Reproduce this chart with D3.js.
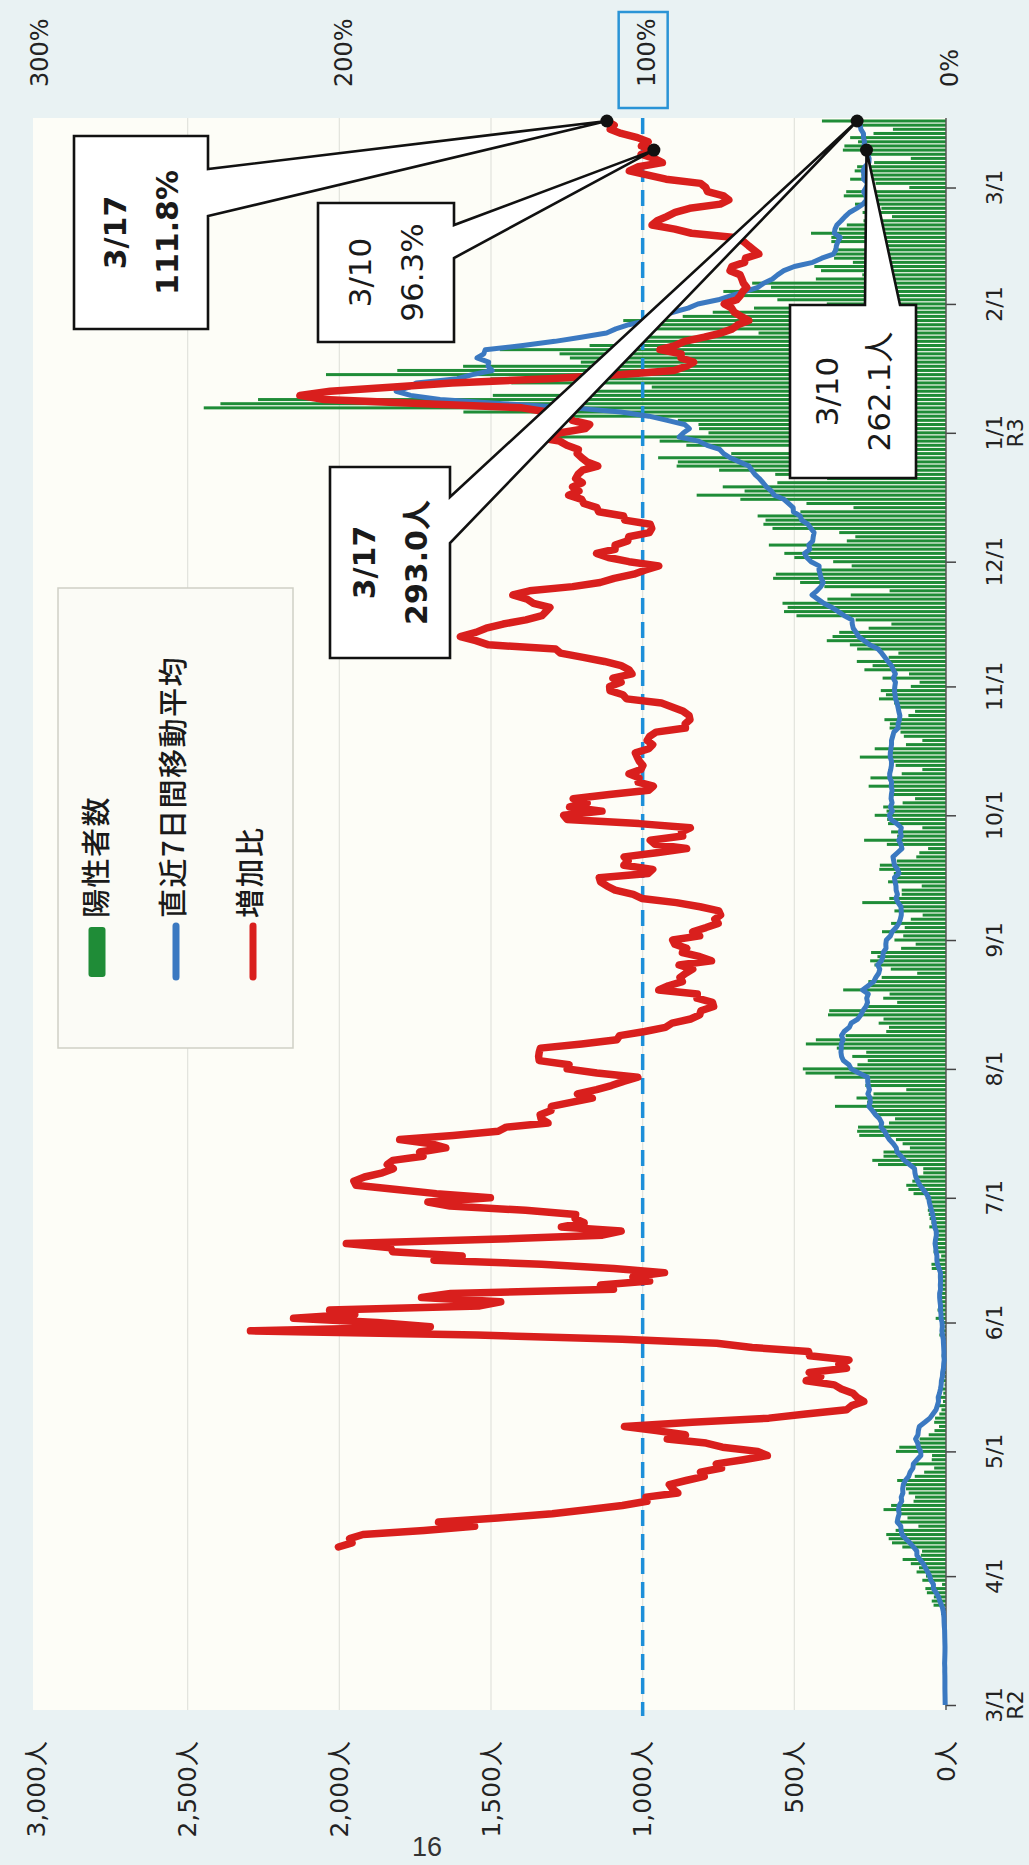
<!DOCTYPE html>
<html><head><meta charset="utf-8">
<script src="https://cdn.jsdelivr.net/npm/d3@7"></script>
<style>
html,body{margin:0;padding:0;background:#e9f2f3;}
svg{display:block;}
</style></head>
<body>
<svg id="chart" width="1029" height="1865"></svg>
<script>
// ---------------- DATA ----------------
const startDate = "2020-03-01";
// daily positives 2020-03-01 .. 2021-03-17
const positives = [
1,0,3,3,8,6,4,2,3,2,7,5,3,2,1,6,4,9,7,11,7,3,16,17,41,47,40,63,68,13,78,
66,97,89,116,143,83,79,144,178,189,197,166,91,161,127,149,206,181,107,102,123,132,134,161,103,72,39,112,47,46,
165,154,91,87,57,38,23,39,36,22,15,28,10,30,9,14,5,10,5,5,11,3,2,14,8,10,11,15,22,14,5,
13,34,12,28,20,26,14,13,12,18,22,25,24,47,48,27,16,41,35,39,35,29,31,55,48,54,57,60,58,54,
67,107,124,131,111,102,75,75,224,243,206,206,119,143,165,286,293,290,188,168,237,238,366,260,295,239,131,266,250,367,463,
472,292,258,309,263,360,462,429,331,197,188,222,206,389,385,260,161,207,186,339,258,256,212,95,182,236,250,226,247,148,100,
170,141,211,136,181,116,77,170,149,276,187,146,146,80,191,163,172,220,218,162,98,88,59,195,270,161,181,78,191,194,
235,196,207,143,102,183,178,255,187,249,146,78,166,177,284,185,235,132,78,139,150,186,185,203,124,102,158,171,221,198,215,
116,87,209,122,269,242,294,189,157,293,317,393,374,352,255,180,298,493,534,522,539,391,314,186,401,481,570,561,418,311,
372,500,533,449,584,327,299,352,572,602,595,621,480,305,460,678,822,664,736,556,392,563,748,888,884,949,708,481,856,944,1337,
783,814,816,884,1278,1591,2447,2392,2268,1494,1219,970,1433,1502,2044,1809,1592,1204,1240,1274,1471,1175,1070,986,618,1026,973,1064,868,769,633,
393,556,676,734,577,639,429,276,412,434,307,369,371,371,266,378,378,445,353,327,272,178,275,213,300,270,337,329,
121,232,316,279,301,293,237,116,269,340,335,290,316,239,175,287,409
];
// 7-day moving average 2020-03-01 .. 2021-03-17
const movingAvg = [
2.7,2.9,3.1,3.4,3.6,3.6,
3.6,3.7,4.1,4.0,4.6,4.1,3.7,3.4,3.3,3.7,
4.0,4.3,4.6,5.7,6.4,6.7,8.1,10.0,14.6,20.3,
24.4,32.4,41.7,41.3,50.0,53.6,60.7,67.7,75.3,86.0,
96.0,96.1,107.3,118.9,133.1,144.7,148.0,149.1,160.9,158.4,
154.3,156.7,154.4,146.0,147.6,142.1,142.9,140.7,134.3,123.1,
118.1,109.1,107.6,95.4,82.9,83.4,90.7,93.4,100.3,92.4,
91.1,87.9,69.9,53.0,43.1,32.9,28.7,24.7,25.7,21.4,
18.3,15.9,15.1,11.9,11.1,8.4,7.6,5.9,7.1,6.9,
7.6,8.4,9.0,11.7,13.4,12.1,12.9,16.3,16.4,18.3,
18.0,19.7,21.0,21.0,17.9,18.7,17.9,18.6,18.3,23.0,
28.0,30.1,29.9,32.6,34.0,36.1,34.4,31.7,32.3,37.9,
38.9,41.6,44.1,47.7,51.9,55.1,56.9,65.3,75.3,85.9,
93.1,99.4,102.4,103.6,120.3,137.3,148.0,161.6,164.0,173.7,
186.6,195.4,202.6,214.6,212.0,219.0,232.4,242.9,254.3,249.6,
250.3,257.6,252.3,256.4,258.1,258.3,287.3,312.6,320.1,338.3,
344.4,346.3,345.3,345.1,339.0,344.6,335.9,318.6,312.7,290.7,
280.3,274.0,263.9,258.7,261.4,256.3,275.3,256.6,238.1,231.3,
221.9,218.3,225.4,212.7,208.1,206.9,197.7,198.4,196.7,183.1,
177.6,164.7,155.3,150.7,147.4,147.4,148.6,157.9,165.1,160.1,
164.4,164.9,167.9,169.9,155.0,159.7,170.0,172.3,174.9,160.1,
145.3,148.6,155.7,147.6,150.3,147.4,162.1,181.4,187.1,176.6,
183.1,177.7,181.1,180.0,177.7,180.6,179.3,185.3,185.7,182.3,
179.9,179.7,183.9,183.6,181.6,179.6,179.6,175.7,171.9,157.9,
157.9,153.3,152.1,155.6,158.3,161.3,166.3,168.1,169.9,168.7,
166.6,173.9,166.9,173.7,180.0,191.3,201.7,211.7,223.7,251.6,
269.3,288.1,296.4,305.9,309.1,309.9,335.0,355.1,376.3,403.0,
422.4,441.6,425.6,412.4,404.9,411.7,414.9,418.7,418.3,444.9,
459.0,466.4,449.1,452.4,439.4,437.7,434.9,445.1,455.0,475.9,
481.1,503.0,503.9,519.3,534.4,565.9,575.7,592.1,603.0,615.4,
630.1,640.1,649.6,681.0,711.4,733.1,745.9,787.7,815.7,879.9,
865.4,846.1,861.6,919.1,979.4,1071.9,1230.4,1460.3,1668.0,1764.9,
1812.7,1768.7,1746.1,1611.1,1561.4,1495.9,1509.9,1507.7,1546.3,1523.6,
1519.1,1395.0,1289.4,1202.9,1119.1,1088.6,1045.6,987.4,943.6,900.6,
850.1,818.0,750.9,708.4,661.3,619.7,601.1,572.0,555.3,534.7,
500.1,439.1,409.4,371.1,362.9,361.4,356.6,348.6,368.3,366.0,
359.7,345.6,333.0,318.3,294.7,274.0,262.1,263.6,271.7,263.6,
257.4,272.1,269.1,273.6,267.3,254.1,253.4,258.7,262.1,270.1,
268.6,271.9,272.1,280.6,283.1,293.0
];
// 増加比 (%) 2020-04-08 .. 2021-03-17
const ratioStart = "2020-04-08";
const ratio = [
200.3,195.8,196.6,192.2,172.1,155.4,167.3,147.7,129.8,117.7,
106.7,98.6,98.9,88.4,90.2,91.2,85.7,79.7,80.9,74.0,
75.7,66.8,58.9,62.1,73.7,79.1,91.9,85.9,95.5,106.0,
83.7,58.4,46.2,32.8,31.1,27.1,29.3,30.7,34.5,36.8,
46.1,41.3,45.1,32.8,35.3,32.0,45.0,45.3,63.9,75.6,
106.8,154.7,229.3,170.0,187.5,215.1,194.9,203.2,153.7,146.8,
172.9,163.3,109.6,113.9,97.7,103.2,92.8,109.5,133.3,168.8,
159.5,182.4,183.1,197.7,149.7,113.3,107.1,126.8,119.3,122.3,
122.1,138.6,163.5,170.8,150.2,168.0,181.1,194.5,195.2,191.7,
185.8,182.2,184.2,182.4,172.4,173.5,164.9,169.6,180.1,162.5,
147.6,145.0,131.2,133.5,133.8,130.2,130.1,123.2,116.6,121.5,
115.2,110.3,106.3,101.6,115.1,124.9,124.3,134.1,134.3,134.1,
133.7,120.1,108.5,107.6,99.3,92.5,90.3,84.2,81.2,80.8,
76.6,77.0,82.1,82.0,94.7,91.5,86.9,87.7,85.8,83.5,
88.0,77.3,81.1,86.9,85.5,89.4,90.1,81.2,83.5,79.1,
75.1,76.2,74.3,74.9,81.1,88.9,100.3,103.1,109.1,111.8,
113.9,114.3,98.2,96.7,106.2,104.8,106.1,95.4,85.5,95.9,
97.5,86.8,87.2,84.3,101.2,124.9,126.0,113.4,124.1,118.3,
122.9,111.0,98.0,96.5,101.5,101.2,104.5,100.6,99.9,101.1,
101.8,102.4,98.0,96.7,98.5,97.7,95.6,85.9,86.0,84.4,
84.7,86.6,90.1,93.8,105.3,106.5,110.8,110.9,107.1,109.8,
103.5,104.5,107.1,112.6,119.6,127.1,128.7,150.8,155.0,160.1,
155.0,151.6,146.0,138.5,133.2,131.9,130.6,136.0,138.1,142.8,
137.3,123.1,114.0,109.4,102.9,99.1,94.7,104.5,111.3,115.2,
109.1,109.1,104.9,104.6,97.8,97.0,97.5,105.9,106.3,114.5,
115.1,119.4,120.1,124.4,121.0,123.1,119.9,122.1,121.3,119.8,
114.8,118.3,120.1,121.6,121.2,125.0,127.4,135.5,127.1,118.9,
117.5,123.2,124.3,131.4,139.8,172.0,205.0,213.0,203.0,182.0,
162.9,130.9,106.9,89.7,85.6,83.2,87.4,87.3,94.3,89.3,
86.2,79.7,74.2,70.4,68.6,65.0,67.6,69.8,70.7,73.1,
69.0,67.8,67.0,65.7,66.8,67.3,67.9,71.2,70.6,66.4,
66.1,61.7,63.4,65.1,66.7,69.7,83.9,89.4,96.9,95.2,
92.1,89.3,84.5,74.4,71.6,73.3,78.6,79.2,80.9,92.3,
98.2,104.4,101.4,93.5,96.2,100.5,96.3,100.4,98.2,101.7,
107.1,110.7,109.4,111.8
];
const valueTicks = [0,500,1000,1500,2000,2500,3000];
const valueTickLabels = ["0人","500人","1,000人","1,500人","2,000人","2,500人","3,000人"];
const pctTicks = [0,100,200,300];
const pctTickLabels = ["0%","100%","200%","300%"];
const monthTicks = ["2020-03-01","2020-04-01","2020-05-01","2020-06-01","2020-07-01","2020-08-01","2020-09-01","2020-10-01","2020-11-01","2020-12-01","2021-01-01","2021-02-01","2021-03-01"];
const monthTickLabels = ["3/1","4/1","5/1","6/1","7/1","8/1","9/1","10/1","11/1","12/1","1/1","2/1","3/1"];
const eraLabels = ["R2","","","","","","","","","","R3","",""];
const legendLabels = ["陽性者数","直近7日間移動平均","増加比"];
const calloutData = [
  {date:"2021-03-17", series:"ratio", value:111.8, text:["3/17","111.8%"], bold:true},
  {date:"2021-03-10", series:"ratio", value:96.3,  text:["3/10","96.3%"],  bold:false},
  {date:"2021-03-17", series:"avg",   value:293.0, text:["3/17","293.0人"], bold:true},
  {date:"2021-03-10", series:"avg",   value:262.1, text:["3/10","262.1人"], bold:false}
];
const pageNumber = "16";

// ---------------- LAYOUT ----------------
const W = 1029, H = 1865;
const plot = {left:33, right:947, top:118, bottom:1710};
const baseX = 946;
const calloutBoxes = [
  {x:74,  y:136, w:134, h:193, side:"right", a:169, b:216},
  {x:318, y:203, w:136, h:139, side:"right", a:225, b:258},
  {x:330, y:467, w:120, h:191, side:"right", a:497, b:543},
  {x:790, y:305, w:126, h:173, side:"top",   a:865, b:900}
];
const C = {green:"#1f8c37", blue:"#3b79c1", red:"#d91f1d", dash:"#1d8fd9", grid:"#e2e3dc",
           page:"#e9f2f3", plotBg:"#fdfdf7", text:"#222"};
const FONT = "'DejaVu Sans','Noto Sans CJK JP',sans-serif";
const JFONT = "'Noto Sans CJK JP','Noto Sans',sans-serif";

const parse = d3.utcParse("%Y-%m-%d");
const t0 = parse(startDate);
const days = d3.utcDay.range(t0, d3.utcDay.offset(t0, positives.length));
const rt0 = parse(ratioStart);
const ratioDays = d3.utcDay.range(rt0, d3.utcDay.offset(rt0, ratio.length));

const y = d3.scaleUtc().domain([t0, days[days.length-1]]).range([1705, 121]);
const x = d3.scaleLinear().domain([0, 3000]).range([baseX, 36]);
const p = d3.scaleLinear().domain([0, 300]).range([baseX, 36]);

const svg = d3.select("#chart");
svg.append("rect").attr("width",W).attr("height",H).attr("fill",C.page);
svg.append("rect").attr("x",plot.left).attr("y",plot.top)
  .attr("width",plot.right-plot.left).attr("height",plot.bottom-plot.top).attr("fill",C.plotBg);

// gridlines
svg.append("g").selectAll("line").data(valueTicks.filter(v=>v>0 && v<3000)).join("line")
  .attr("x1",d=>x(d)).attr("x2",d=>x(d)).attr("y1",plot.top).attr("y2",plot.bottom)
  .attr("stroke",C.grid).attr("stroke-width",1.2);

// bars
svg.append("g").selectAll("rect").data(positives).join("rect")
  .attr("x",d=>x(d)).attr("width",d=>baseX-x(d))
  .attr("y",(d,i)=>y(days[i])-1.5).attr("height",3)
  .attr("fill",C.green);

// date axis
const yAxis = d3.axisRight(y).tickValues(monthTicks.map(parse)).tickSize(10).tickFormat("").tickSizeOuter(0);
const ax = svg.append("g").attr("transform",`translate(${baseX},0)`).call(yAxis);
ax.select(".domain").remove();
ax.selectAll(".tick line").attr("stroke","#444").attr("stroke-width",1.5);
svg.append("line").attr("x1",baseX).attr("x2",baseX).attr("y1",plot.top).attr("y2",plot.bottom)
  .attr("stroke","#555").attr("stroke-width",1.5);

function vtext(g, tx, ty, str, anchor){
  return g.append("text").attr("transform",`translate(${tx},${ty}) rotate(-90)`)
    .attr("text-anchor",anchor).attr("dy","0.35em").text(str);
}
const lab = svg.append("g").attr("fill",C.text).attr("font-family",FONT);
monthTicks.forEach((m,i)=>{
  const ty = y(parse(m));
  vtext(lab, 994, ty, monthTickLabels[i], "middle").attr("font-size",22);
  if (eraLabels[i]) vtext(lab, 1015, ty, eraLabels[i], "middle").attr("font-size",22);
});
valueTicks.forEach((v,i)=>{
  vtext(lab, x(v), 1741, valueTickLabels[i], "end").attr("font-size",25);
});
pctTicks.forEach((v,i)=>{
  vtext(lab, p(v)+4, 87, pctTickLabels[i], "start").attr("font-size",24);
});
svg.append("rect").attr("x",p(100)-24).attr("y",12).attr("width",49).attr("height",96)
  .attr("fill","none").attr("stroke","#2a94d6").attr("stroke-width",2.5);

// dashed 100% line
svg.append("line").attr("x1",p(100)).attr("x2",p(100)).attr("y1",plot.top).attr("y2",plot.bottom+6)
  .attr("stroke",C.dash).attr("stroke-width",3.5).attr("stroke-dasharray","16,8");

// moving average
svg.append("path").datum(movingAvg)
  .attr("d", d3.line().x(d=>x(d)).y((d,i)=>y(days[i])))
  .attr("fill","none").attr("stroke",C.blue).attr("stroke-width",5).attr("stroke-linejoin","round");

// ratio
svg.append("path").datum(ratio)
  .attr("d", d3.line().x(d=>p(d)).y((d,i)=>y(ratioDays[i])))
  .attr("fill","none").attr("stroke",C.red).attr("stroke-width",7.5)
  .attr("stroke-linejoin","round").attr("stroke-linecap","round");

// callouts
const cg = svg.append("g");
calloutData.forEach((c,i)=>{
  const b = calloutBoxes[i];
  const tx = c.series==="ratio" ? p(c.value) : x(c.value);
  const ty = y(parse(c.date));
  let d;
  if (b.side==="right"){
    d = `M${b.x},${b.y}H${b.x+b.w}V${b.a}L${tx},${ty}L${b.x+b.w},${b.b}V${b.y+b.h}H${b.x}Z`;
  } else {
    d = `M${b.x},${b.y}H${b.a}L${tx},${ty}L${b.b},${b.y}H${b.x+b.w}V${b.y+b.h}H${b.x}Z`;
  }
  cg.append("path").attr("d",d).attr("fill","#fff").attr("stroke","#111")
    .attr("stroke-width",2.6).attr("stroke-linejoin","miter");
  const cx = b.x + b.w/2, cy = b.y + b.h/2;
  c.text.forEach((t,k)=>{
    vtext(cg, cx + (k===0?-26:26), cy, t, "middle")
      .attr("font-family",FONT).attr("font-size", c.bold?30:31)
      .attr("font-weight", c.bold?"bold":"normal").attr("fill","#1a1a1a");
  });
});
calloutData.forEach(c=>{
  const tx = c.series==="ratio" ? p(c.value) : x(c.value);
  const ty = y(parse(c.date));
  cg.append("circle").attr("cx",tx).attr("cy",ty).attr("r",6.5).attr("fill","#111");
});

// legend
const lg = svg.append("g");
lg.append("rect").attr("x",58).attr("y",588).attr("width",235).attr("height",460)
  .attr("fill","#fbfbf6").attr("stroke","#cfd0c6").attr("stroke-width",1.5);
const legX = [97, 174, 251];
lg.append("rect").attr("x",legX[0]-8.5).attr("y",927).attr("width",17).attr("height",50).attr("rx",3)
  .attr("fill",C.green);
lg.append("line").attr("x1",legX[1]+2).attr("x2",legX[1]+2).attr("y1",926).attr("y2",977)
  .attr("stroke",C.blue).attr("stroke-width",7).attr("stroke-linecap","round");
lg.append("line").attr("x1",legX[2]+2).attr("x2",legX[2]+2).attr("y1",926).attr("y2",977)
  .attr("stroke",C.red).attr("stroke-width",7).attr("stroke-linecap","round");
legendLabels.forEach((t,i)=>{
  vtext(lg, legX[i], 918, t, "start").attr("font-family",JFONT).attr("font-size",29)
    .attr("font-weight",500).attr("letter-spacing",1.5).attr("fill","#1a1a1a");
});

// page number
svg.append("text").attr("x",427).attr("y",1856).attr("text-anchor","middle")
  .attr("font-family","'Liberation Sans Narrow','Liberation Sans',sans-serif")
  .attr("font-size",27).attr("fill","#333").text(pageNumber);
</script>
</body></html>
